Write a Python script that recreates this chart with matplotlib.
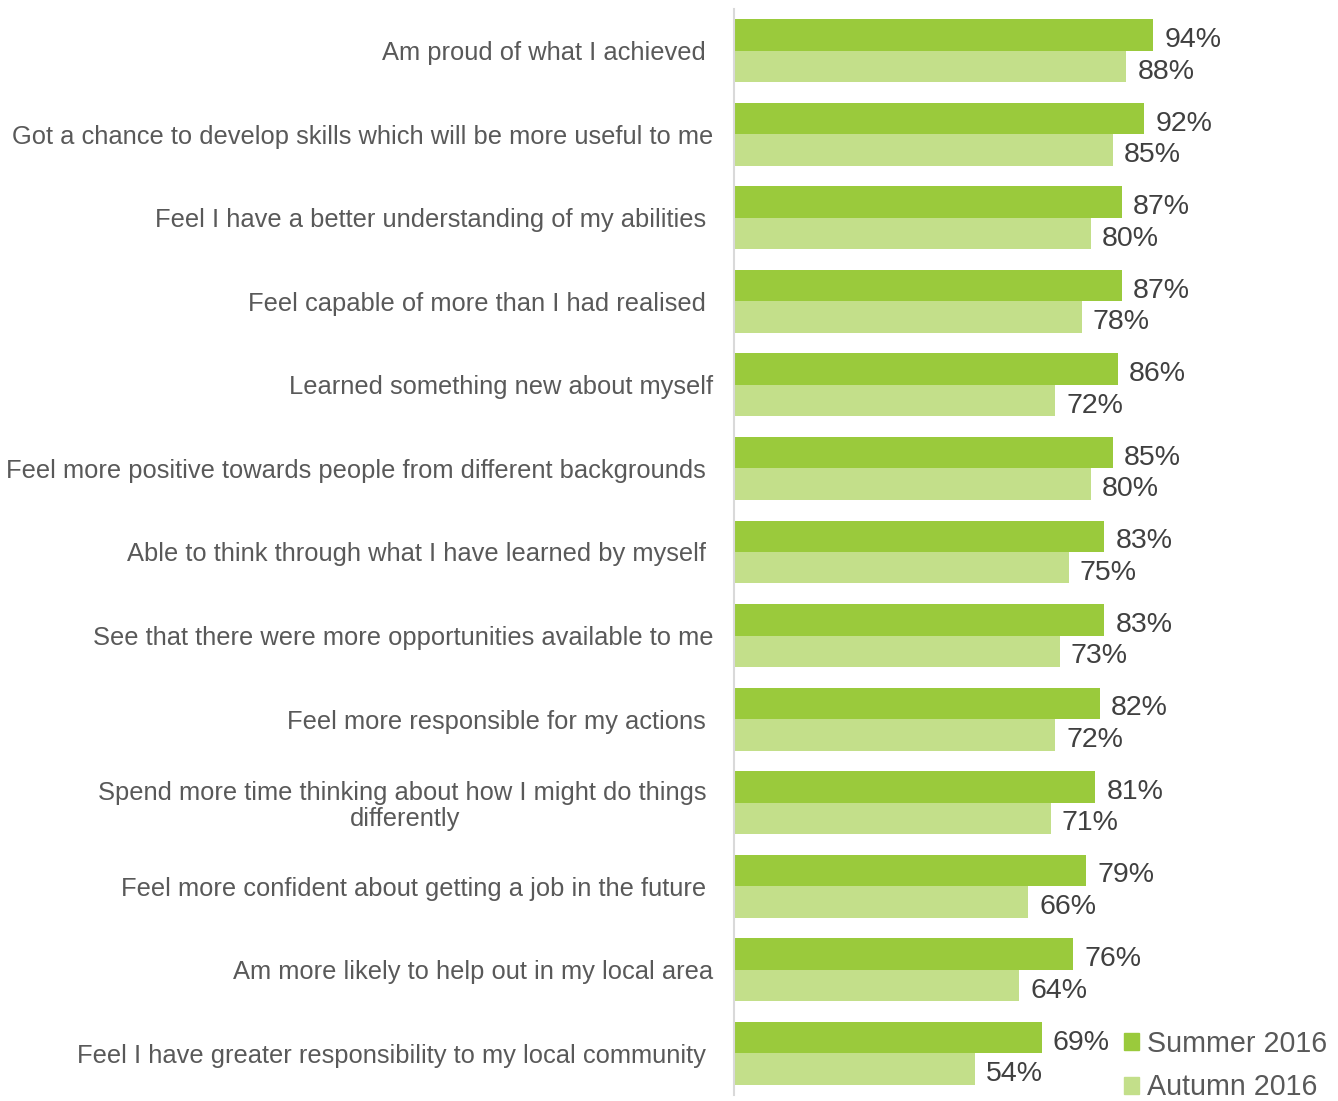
import matplotlib
matplotlib.use("Agg")
import matplotlib.pyplot as plt
from matplotlib.patches import Patch
import numpy as np

plt.rcParams['font.family'] = ['Liberation Sans', 'DejaVu Sans']

categories = [
    "Am proud of what I achieved ",
    "Got a chance to develop skills which will be more useful to me",
    "Feel I have a better understanding of my abilities ",
    "Feel capable of more than I had realised ",
    "Learned something new about myself",
    "Feel more positive towards people from different backgrounds ",
    "Able to think through what I have learned by myself ",
    "See that there were more opportunities available to me",
    "Feel more responsible for my actions ",
    "Spend more time thinking about how I might do things \ndifferently",
    "Feel more confident about getting a job in the future ",
    "Am more likely to help out in my local area",
    "Feel I have greater responsibility to my local community ",
]
summer_2016 = [94, 92, 87, 87, 86, 85, 83, 83, 82, 81, 79, 76, 69]
autumn_2016 = [88, 85, 80, 78, 72, 80, 75, 73, 72, 71, 66, 64, 54]

SUMMER_COLOR = "#9aca3c"
AUTUMN_COLOR = "#c3df8a"
TEXT_COLOR = "#595959"

fig = plt.figure(figsize=(13.38, 11.01), dpi=100)
ax = fig.add_axes([734 / 1338, 6 / 1101, 446 / 1338, 1086 / 1101])

y = np.arange(len(categories))
h = 0.377
ax.barh(y - h / 2, summer_2016, height=h, color=SUMMER_COLOR, label="Summer 2016")
ax.barh(y + h / 2, autumn_2016, height=h, color=AUTUMN_COLOR, label="Autumn 2016")

# value labels at the end of each bar
for i, (s, a) in enumerate(zip(summer_2016, autumn_2016)):
    ax.annotate(f"{s}%", (s, i - h / 2), xytext=(8, -1.5), textcoords="offset points",
                va="center_baseline", ha="left", fontsize=20.5, color="#404040")
    ax.annotate(f"{a}%", (a, i + h / 2), xytext=(8, -1.5), textcoords="offset points",
                va="center_baseline", ha="left", fontsize=20.5, color="#404040")

ax.set_xlim(0, 100)
ax.set_ylim(len(categories) - 0.5, -0.5)
ax.set_yticks(y)
ax.set_yticklabels(categories, fontsize=18.4, color=TEXT_COLOR,
                   multialignment="center", linespacing=1.1)
ax.tick_params(axis="y", length=0, pad=15)
ax.set_xticks([])

for side in ["top", "right", "bottom"]:
    ax.spines[side].set_visible(False)
ax.spines["left"].set_color("#d9d9d9")
ax.spines["left"].set_linewidth(1.5)

handles = [Patch(color=SUMMER_COLOR, label="Summer 2016"),
           Patch(color=AUTUMN_COLOR, label="Autumn 2016")]
fig.legend(handles=handles, loc="lower left", bbox_to_anchor=(1098 / 1338, -26 / 1101),
           frameon=False, fontsize=20.6, handlelength=0.55, handleheight=0.55,
           handletextpad=0.25, labelspacing=0.55, labelcolor=TEXT_COLOR)

fig.savefig("out.png", dpi=100)
